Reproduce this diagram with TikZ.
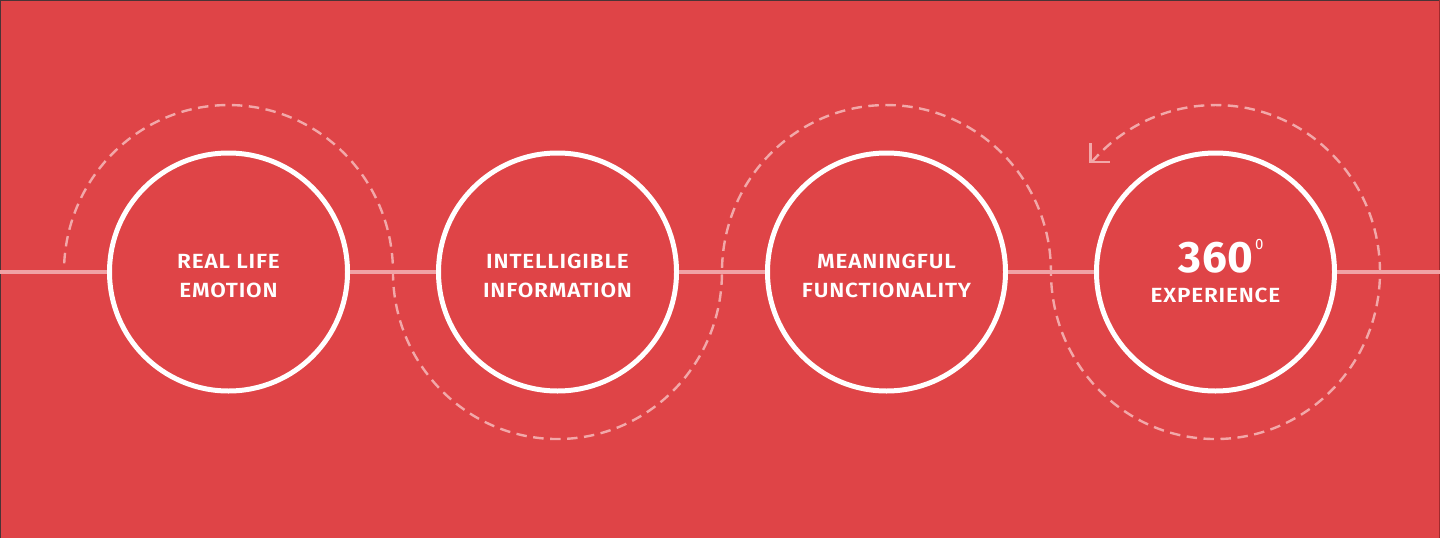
\documentclass[tikz,border=0pt]{standalone}
\usepackage{fontspec}
\setmainfont{Fira Sans}[BoldFont={Fira Sans SemiBold}]
\newfontfamily\labelfont{Fira Sans SemiBold}[LetterSpace=4, FakeStretch=1.1]
\newfontfamily\bigfont{Fira Sans Bold}[LetterSpace=1]
\newfontfamily\supfont{Fira Sans}
\definecolor{bgred}{HTML}{DF4447}
\definecolor{linepink}{HTML}{F0A2A5}
\definecolor{dashpink}{HTML}{F2A8A9}
\definecolor{edgedark}{HTML}{4A3436}
\definecolor{edgered}{HTML}{A02A2D}
\tikzset{
  stage/.style={circle, draw=white, fill=bgred, line width=5pt, minimum size=238pt, inner sep=0pt},
  stagetext/.style={text=white, align=center, inner sep=0pt, font=\labelfont\fontsize{20.5}{28.5}\selectfont},
  hline/.style={draw=linepink, line width=4pt},
  dashline/.style={draw=dashpink, line width=2.4pt, dash pattern=on 10.5pt off 6.5pt},
  tipline/.style={draw=dashpink, line width=2.4pt}
}
\begin{document}
\begin{tikzpicture}[x=1pt,y=-1pt]
\useasboundingbox (0,0) rectangle (1440,538);
\fill[bgred] (0,0) rectangle (1440,538);
\draw[edgedark, line width=1.5pt] (0,538) -- (0,0) -- (1440,0);
\draw[edgered, line width=1.5pt] (1440,0) -- (1440,538);

% dashed S-path with closing loop
\coordinate (ds) at (64.2,263.3);
\coordinate (tip) at (1090.5,162);
\draw[dashline] (ds)
  arc[start angle=183, end angle=360, x radius=164.5, y radius=167]
  arc[start angle=180, end angle=0, x radius=164.5, y radius=167]
  arc[start angle=180, end angle=360, x radius=164.5, y radius=167]
  arc[start angle=180, end angle=-139, x radius=164.5, y radius=167];
\coordinate (tipup) at (1090.5,143);
\coordinate (tipright) at (1110,162);
\draw[tipline] (tipup) -- (tip) -- (tipright);

% stage circles
\node[stage] (c1) at (228.5,272) {};
\node[stage] (c2) at (557.5,272) {};
\node[stage] (c3) at (886.5,272) {};
\node[stage] (c4) at (1215.5,272) {};

% connecting line
\coordinate (L) at (0,272);
\coordinate (R) at (1440,272);
\draw[hline] (L) -- (c1) (c1) -- (c2) (c2) -- (c3) (c3) -- (c4) (c4) -- (R);

% labels
\node[stagetext] (t1) at (228.5,276) {REAL LIFE\\EMOTION};
\node[stagetext] (t2) at (557.5,276) {INTELLIGIBLE\\INFORMATION};
\node[stagetext] (t3) at (886.5,276) {MEANINGFUL\\FUNCTIONALITY};
\node[text=white, anchor=base, inner sep=0pt, font=\bigfont\fontsize{44}{44}\selectfont] (t4a) at (1216,272)
  {360\rlap{\kern2pt\raisebox{23pt}{\supfont\fontsize{15}{15}\selectfont 0}}};
\node[text=white, anchor=base, inner sep=0pt, font=\labelfont\fontsize{20.5}{20.5}\selectfont] (t4b) at (1215.5,302) {EXPERIENCE};
\end{tikzpicture}
\end{document}
